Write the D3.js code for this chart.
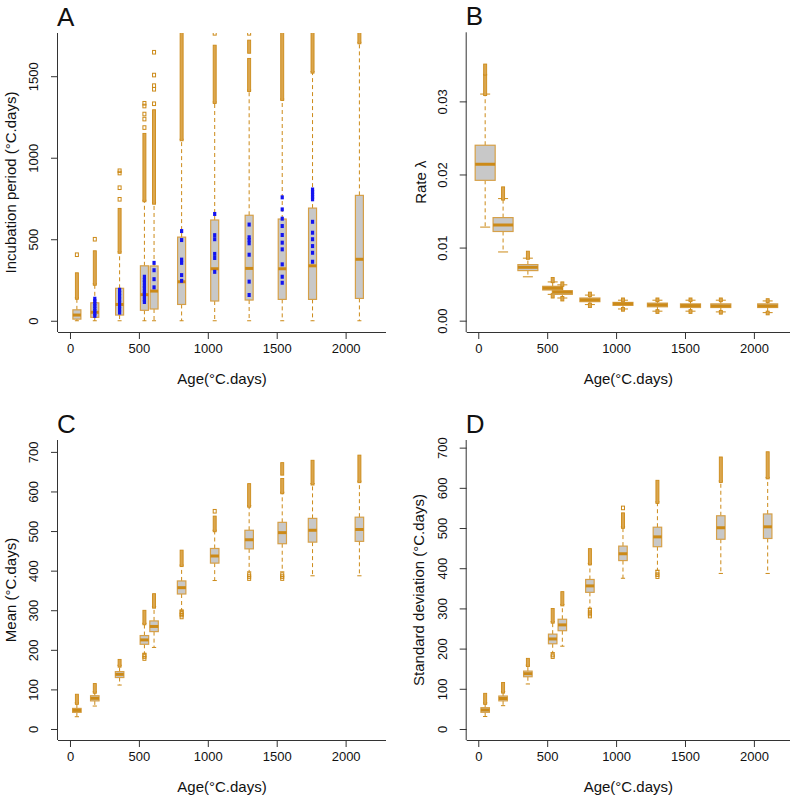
<!DOCTYPE html>
<html><head><meta charset="utf-8">
<script src="https://cdn.jsdelivr.net/npm/d3@7"></script>
<style>body{margin:0;background:#fff}svg text{font-family:"Liberation Sans",Arial,sans-serif;fill:#111}</style>
</head><body><svg id="c" width="798" height="799"></svg>
<script>
// ---------- DATA ----------
const ages = [50,180,360,540,610,810,1050,1300,1540,1760,2100];
const agesD = [50,180,360,540,610,810,1050,1300,1760,2100];
const xTicks = [0,500,1000,1500,2000];

// Panel A : incubation period
const aLo  = [0,0,0,0,0,0,0,0,0,0,0];
const aQ1  = [10,21,35,64,72,100,121,127,131,131,137];
const aMed = [35,52,100,160,182,239,319,321,319,337,377];
const aQ3  = [67,110,199,337,336,513,618,647,624,691,769];
const aHi  = [141,227,423,739,724,1113,1342,1415,1360,1528,1708];
const aRuns = [[[141,285]],[[227,420]],[[423,680]],[[739,1140]],[[724,1285]],[[1113,1765]],[[1342,1681]],[[1415,1600],[1650,1712]],[[1360,1765]],[[1528,1765]],[[1708,1765]]];
const aPts = [[405],[500],[745,816,906,920],[1185,1237,1268,1317,1334],[1331,1420,1442,1507,1647],[],[1763],[1763],[],[],[]];
const aBlue = [[],[30,45,60,75,90,105,120,135],[50,70,90,110,130,150,170,190],[115,130,150,165,180,200,215,235,250,270],[205,255,310,355],[245,280,355,375,495,550],[300,385,410,500,525,655],[158,240,405,475,495,512,590],[233,270,346,438,479,526,581,626,683,757],[362,417,458,500,540,607,745,760,775,790,805],[]];
const aTicks = [0,500,1000,1500];

// Panel B : rate lambda
const bLo  = [0.0128,0.0094,0.0060,0.0036,0.0031,0.0022,0.0016,0.0013,0.0013,0.0012,0.0011];
const bQ1  = [0.0192,0.0122,0.00685,0.0042,0.0036,0.0026,0.0021,0.0019,0.0018,0.0018,0.0018];
const bMed = [0.0214,0.0131,0.0073,0.00445,0.0039,0.00284,0.0023,0.00215,0.00206,0.00201,0.00201];
const bQ3  = [0.0240,0.0141,0.00767,0.0047,0.0041,0.0031,0.0025,0.0024,0.0023,0.0023,0.0023];
const bHi  = [0.0310,0.0167,0.00855,0.0053,0.0049,0.0035,0.0028,0.0028,0.0028,0.0028,0.0027];
const bRuns = [[[0.0310,0.0335],[0.0338,0.0349]],[[0.0167,0.0181]],[[0.0086,0.0093]],[[0.0054,0.0057],[0.0033,0.0035]],[[0.0049,0.0051],[0.0029,0.0031]],[[0.0035,0.0037],[0.0020,0.0022]],[[0.0028,0.0029],[0.0015,0.0016]],[[0.0028,0.0029],[0.0012,0.0013]],[[0.0028,0.0029],[0.0012,0.0013]],[[0.0028,0.0029],[0.0011,0.0012]],[[0.0027,0.0028],[0.0010,0.0011]]];
const bPts = [[],[],[],[],[],[],[],[],[],[],[]];
const bTicks = [0,0.01,0.02,0.03];

// Panel C : mean
const cLo  = [31,58,111,190,206,300,375,397,397,387,387];
const cQ1  = [42,71,130,214,246,341,419,455,468,472,474];
const cMed = [47,77.5,138,225,259,357,437,478,496,502,504];
const cQ3  = [52,84,145,236,273,374,456,502,522,532,535];
const cHi  = [66,94,161,267,309,414,502,564,598,620,626];
const cRuns = [[[66,84]],[[94,111]],[[160,172]],[[267,296]],[[309,338]],[[414,448]],[[502,534]],[[564,616]],[[598,629],[645,669]],[[620,675]],[[626,688]]];
const cPts = [[],[],[],[178,183,187],[],[283,288,292,296],[550],[380,385,390],[380,385,390],[],[]];
const cTicks = [0,100,200,300,400,500,600,700];

// Panel D : standard deviation
const dLo  = [31,58,112,190,206,300,375,395,387,387];
const dQ1  = [41.5,70,130,212,244.5,340,419,453.5,472,474];
const dMed = [47,76,137.6,224,259,356,436,478,500.7,503];
const dQ3  = [53,82,144,236,273,372,455,502,530.5,535];
const dHi  = [65,93,159,267,310,412,503,565,617,626];
const dRuns = [[[65,85]],[[93,112]],[[159,172]],[[267,296]],[[310,338]],[[412,445]],[[503,534]],[[565,615]],[[617,673]],[[626,686]]];
const dPts = [[],[],[],[180,184],[],[281,286,291,296],[550],[379,384,390],[],[]];
const dTicks = [0,100,200,300,400,500,600,700];

// ---------- STYLE ----------
const ORANGE = "#CC8A18", BOXSTROKE = "#D6A048", GREY = "#C8C8C8", BLUE = "#1414F0";
const svg = d3.select("#c");

function panel(o) {
  const g = svg.append("g");
  const x = d3.scaleLinear().domain(o.xd).range([o.L, o.R]);
  const y = d3.scaleLinear().domain(o.yd).range([o.B, o.T]);
  const id = "clip" + o.letter;
  svg.append("clipPath").attr("id", id).append("rect")
    .attr("x", o.L).attr("y", o.T).attr("width", o.R - o.L).attr("height", o.B - o.T);
  const p = g.append("g").attr("clip-path", `url(#${id})`);
  const bw = o.bw, cw = o.bw / 2;
  o.ages.forEach((a, i) => {
    const cx = x(a);
    // whiskers
    p.append("line").attr("x1", cx).attr("x2", cx).attr("y1", y(o.q3[i])).attr("y2", y(o.hi[i]))
      .attr("stroke", ORANGE).attr("stroke-width", 1).attr("stroke-dasharray", "4,3");
    p.append("line").attr("x1", cx).attr("x2", cx).attr("y1", y(o.q1[i])).attr("y2", y(o.lo[i]))
      .attr("stroke", ORANGE).attr("stroke-width", 1).attr("stroke-dasharray", "4,3");
    [o.hi[i], o.lo[i]].forEach(v => p.append("line").attr("x1", cx - cw / 2).attr("x2", cx + cw / 2)
      .attr("y1", y(v)).attr("y2", y(v)).attr("stroke", ORANGE).attr("stroke-width", 1));
    // outlier runs (dense columns of overlapping open squares)
    o.runs[i].forEach(r => p.append("rect").attr("x", cx - 1.5).attr("width", 3)
      .attr("y", y(r[1]) - 1.5).attr("height", y(r[0]) - y(r[1]) + 3)
      .attr("fill", "#DBA64E").attr("stroke", ORANGE).attr("stroke-width", 0.9));
    o.pts[i].forEach(v => p.append("rect").attr("x", cx - 1.5).attr("width", 3)
      .attr("y", y(v) - 1.8).attr("height", 3.6).attr("fill", "none").attr("stroke", ORANGE).attr("stroke-width", 1));
    // box
    p.append("rect").attr("x", cx - bw / 2).attr("width", bw)
      .attr("y", y(o.q3[i])).attr("height", Math.max(1, y(o.q1[i]) - y(o.q3[i])))
      .attr("fill", GREY).attr("stroke", BOXSTROKE).attr("stroke-width", 1.2);
    p.append("line").attr("x1", cx - bw / 2).attr("x2", cx + bw / 2)
      .attr("y1", y(o.med[i])).attr("y2", y(o.med[i])).attr("stroke", ORANGE).attr("stroke-width", 3);
    // blue points
    if (o.blue) o.blue[i].forEach(v => p.append("rect").attr("x", cx - 1.6).attr("width", 3.2)
      .attr("y", y(v) - 2).attr("height", 4).attr("fill", BLUE));
  });
  // axes
  const ax = g.append("g").attr("transform", `translate(0,${o.B})`)
    .call(d3.axisBottom(x).tickValues(xTicks).tickSize(7).tickPadding(5).tickFormat(d3.format("d")));
  ax.select(".domain").attr("d", `M${o.L},0.5H${o.R}`).attr("stroke", "#333");
  const ay = g.append("g").attr("transform", `translate(${o.L},0)`)
    .call(d3.axisLeft(y).tickValues(o.yt).tickSize(7).tickFormat(o.fmt));
  ay.select(".domain").attr("d", `M-0.5,${o.T}V${o.B}`).attr("stroke", "#333");
  [ax, ay].forEach(a => { a.selectAll(".tick line").attr("stroke", "#333"); a.selectAll("text").style("font-size", "13px").attr("fill", "#111"); });
  ay.selectAll(".tick text").attr("x", 0).attr("dy", 0).attr("text-anchor", "middle")
    .attr("transform", "translate(-20,0) rotate(-90)");
  // labels
  g.append("text").attr("x", (o.L + o.R) / 2).attr("y", o.B + 52).attr("text-anchor", "middle")
    .style("font-size", "15px").text("Age(°C.days)");
  g.append("text").attr("transform", `translate(${o.yl},${(o.T + o.B) / 2}) rotate(-90)`)
    .attr("text-anchor", "middle").style("font-size", "15px").text(o.ytitle);
  g.append("text").attr("x", o.L - 1).attr("y", o.T - 7).style("font-size", "26px").text(o.letter);
}

panel({letter:"A", L:58, R:386, T:33, B:332, xd:[-87,2293], yd:[-69,1765], bw:8, ages:ages,
  lo:aLo, q1:aQ1, med:aMed, q3:aQ3, hi:aHi, runs:aRuns, pts:aPts, blue:aBlue, yt:aTicks,
  fmt:d3.format("d"), yl:16, ytitle:"Incubation period (°C.days)"});
panel({letter:"B", L:466.7, R:790, T:32.3, B:332, xd:[-84,2262], yd:[-0.00155,0.03945], bw:20, ages:ages,
  lo:bLo, q1:bQ1, med:bMed, q3:bQ3, hi:bHi, runs:bRuns, pts:bPts, yt:bTicks,
  fmt:d3.format(".2f"), yl:426, ytitle:"Rate λ"});
panel({letter:"C", L:58, R:386, T:440, B:740, xd:[-87,2293], yd:[-27.8,730], bw:8.5, ages:ages,
  lo:cLo, q1:cQ1, med:cMed, q3:cQ3, hi:cHi, runs:cRuns, pts:cPts, yt:cTicks,
  fmt:d3.format("d"), yl:16, ytitle:"Mean (°C.days)"});
panel({letter:"D", L:466.7, R:790, T:440, B:740, xd:[-84,2262], yd:[-27.4,719], bw:8.5, ages:agesD,
  lo:dLo, q1:dQ1, med:dMed, q3:dQ3, hi:dHi, runs:dRuns, pts:dPts, yt:dTicks,
  fmt:d3.format("d"), yl:424, ytitle:"Standard deviation (°C.days)"});
</script></body></html>
